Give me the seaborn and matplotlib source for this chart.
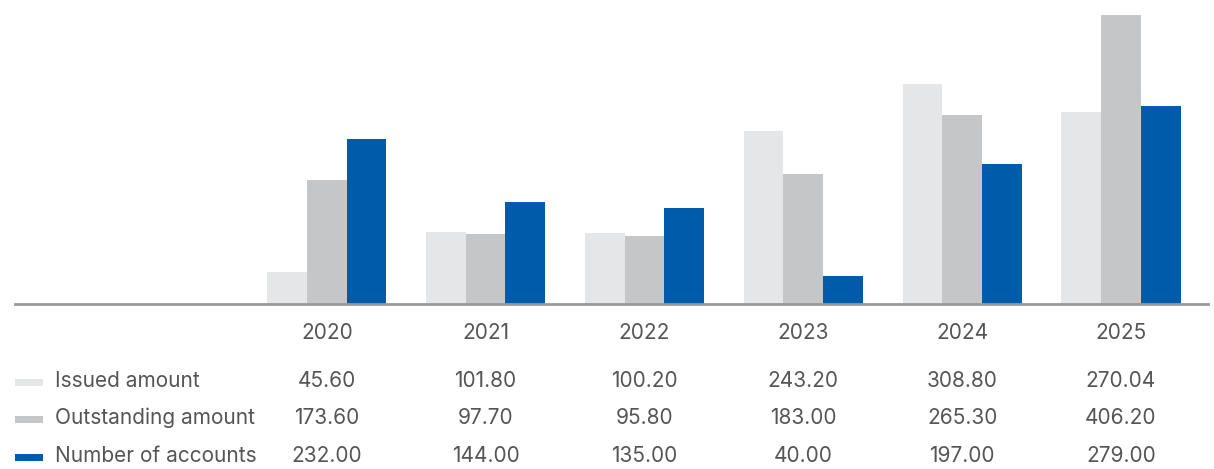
import matplotlib
matplotlib.use("Agg")
import matplotlib.pyplot as plt
import matplotlib.transforms as mtransforms
from matplotlib.patches import Rectangle
import seaborn as sns
import pandas as pd

years = ["2020", "2021", "2022", "2023", "2024", "2025"]
series_names = ["Issued amount", "Outstanding amount", "Number of accounts"]
issued = [45.60, 101.80, 100.20, 243.20, 308.80, 270.04]
outstanding = [173.60, 97.70, 95.80, 183.00, 265.30, 406.20]
accounts = [232.00, 144.00, 135.00, 40.00, 197.00, 279.00]
colors = ["#e5e6e8", "#c5c6c8", "#005baa"]

values = [issued, outstanding, accounts]
rows = []
for name, vals in zip(series_names, values):
    for y, v in zip(years, vals):
        rows.append({"year": y, "series": name, "value": v})
df = pd.DataFrame(rows)

sns.set_theme(style="white")
plt.rcParams["font.family"] = ["Inter", "DejaVu Sans"]

W, H, DPI = 1214, 469, 100
fig = plt.figure(figsize=(W / DPI, H / DPI), dpi=DPI)
ax = fig.add_axes([15 / W, 1 - 304 / H, (1208 - 15) / W, 304 / H])

sns.barplot(data=df, x="year", y="value", hue="series", order=years,
            hue_order=series_names, palette=colors, width=0.75,
            saturation=1, ax=ax, legend=False, linewidth=0)

ax.set_xlim(-1.963, 5.548)
ax.set_ylim(0, 427.3)
ax.set_xlabel("")
ax.set_ylabel("")
ax.set_yticks([])
for s in ["top", "right", "left"]:
    ax.spines[s].set_visible(False)
ax.spines["bottom"].set_color("#999999")
ax.spines["bottom"].set_linewidth(2)
ax.tick_params(axis="x", length=0, pad=14, labelsize=15, colors="#555555")

text_color = "#555555"
fs = 15
trans = mtransforms.blended_transform_factory(ax.transData, fig.transFigure)
row_y = [381, 418, 456]
for name, vals, col, py in zip(series_names, values, colors, row_y):
    fy = 1 - py / H
    fig.patches.append(Rectangle((15 / W, fy - 4.5 / H), 28 / W, 7 / H,
                                 transform=fig.transFigure, color=col,
                                 linewidth=0))
    fig.text(55 / W, fy, name, ha="left", va="center", fontsize=fs,
             color=text_color)
    for i, v in enumerate(vals):
        ax.text(i, fy, f"{v:.2f}", transform=trans, ha="center", va="center",
                fontsize=fs, color=text_color)

fig.savefig("out.png", dpi=DPI)
